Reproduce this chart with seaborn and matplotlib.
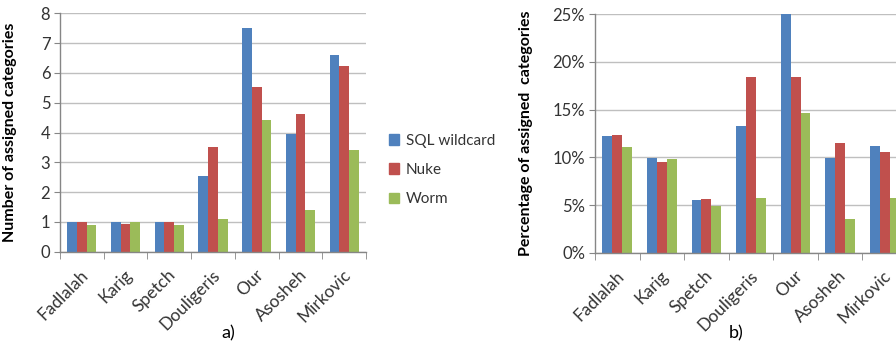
import numpy as np
import pandas as pd
import seaborn as sns
import matplotlib.pyplot as plt
import matplotlib.transforms as mtrans
from matplotlib.ticker import FuncFormatter, FixedLocator

methods = ["Fadlalah", "Karig", "Spetch", "Douligeris", "Our", "Asosheh", "Mirkovic"]
series = ["SQL wildcard", "Nuke", "Worm"]

# a) number of assigned categories
num_sql = [1.0, 1.0, 1.0, 2.53, 7.52, 3.95, 6.60]
num_nuke = [1.0, 0.93, 1.0, 3.50, 5.53, 4.62, 6.23]
num_worm = [0.89, 1.0, 0.89, 1.11, 4.41, 1.40, 3.41]

# b) percentage of assigned categories
pct_sql = [12.27, 9.90, 5.52, 13.29, 25.0, 9.90, 11.22]
pct_nuke = [12.38, 9.48, 5.59, 18.39, 18.46, 11.54, 10.56]
pct_worm = [11.12, 9.83, 4.90, 5.77, 14.65, 3.53, 5.77]

colors = ["#4F81BD", "#C0504D", "#9BBB59"]


def long_table(a, b, c):
    rows = []
    for s, vals in zip(series, [a, b, c]):
        for m, v in zip(methods, vals):
            rows.append({"method": m, "series": s, "value": v})
    return pd.DataFrame(rows)


df_num = long_table(num_sql, num_nuke, num_worm)
df_pct = long_table(pct_sql, pct_nuke, pct_worm)

sns.set_style("white")
plt.rcParams["font.family"] = ["Lato", "DejaVu Sans"]

fig = plt.figure(figsize=(8.96, 3.44), dpi=100)
ax1 = fig.add_axes([60 / 896, 1 - 251.7 / 344, 306 / 896, (251.7 - 13.3) / 344])
ax2 = fig.add_axes([595 / 896, 1 - 252.7 / 344, 312 / 896, (252.7 - 14.3) / 344])

grid_c = "#BFBFBF"
axis_c = "#868686"
text_c = "#333333"


def style(ax, df, ymax, step, ylabel, fmt=None):
    sns.barplot(data=df, x="method", y="value", hue="series", palette=colors,
                width=0.667, gap=0, saturation=1, ax=ax, legend=False,
                linewidth=0, edgecolor="none")
    ax.set_xlim(-0.5, len(methods) - 0.5)
    ax.set_ylim(0, ymax)
    ax.set_yticks(np.arange(0, ymax + step / 2, step))
    if fmt:
        ax.yaxis.set_major_formatter(FuncFormatter(fmt))
    ax.grid(axis="y", color=grid_c, linewidth=1)
    ax.set_axisbelow(True)
    for s in ["top", "right"]:
        ax.spines[s].set_visible(False)
    for s in ["left", "bottom"]:
        ax.spines[s].set_color(axis_c)
        ax.spines[s].set_linewidth(1)
    ax.tick_params(axis="x", which="major", length=0, pad=15)
    ax.xaxis.set_minor_locator(FixedLocator(np.arange(len(methods) + 1) - 0.5))
    ax.tick_params(axis="x", which="minor", length=5, color=axis_c, bottom=True)
    ax.tick_params(axis="y", length=4, color=axis_c, left=True, labelsize=12,
                   labelcolor=text_c, pad=3)
    shift = mtrans.ScaledTranslation(4 / 100, 0, fig.dpi_scale_trans)
    for lab in ax.get_xticklabels():
        lab.set_rotation(45)
        lab.set_ha("right")
        lab.set_va("center")
        lab.set_rotation_mode("anchor")
        lab.set_fontsize(12.5)
        lab.set_color(text_c)
        lab.set_transform(lab.get_transform() + shift)
    ax.set_xlabel("")
    ax.set_ylabel(ylabel, fontsize=11.5, fontweight="bold", color="black")


style(ax1, df_num, 8, 1, "Number of assigned categories")
style(ax2, df_pct, 25, 5, "Percentage of assigned  categories",
      fmt=lambda v, p: f"{int(v)}%")
ax1.yaxis.set_label_coords(-0.14, 0.5)
ax2.yaxis.set_label_coords(-0.2, 0.5)

fig.text(228 / 896, 1 - 333 / 344, "a)", fontsize=13, ha="center", va="center", color="black")
fig.text(736 / 896, 1 - 333 / 344, "b)", fontsize=13, ha="center", va="center", color="black")

handles = [plt.Rectangle((0, 0), 1, 1, color=c) for c in colors]
fig.legend(handles, series, loc="center left", bbox_to_anchor=(375 / 896, 1 - 170 / 344),
           frameon=False, handlelength=0.7, handleheight=0.7, handletextpad=0.4,
           labelspacing=1.0, fontsize=11, labelcolor=text_c)

fig.savefig("out.png", dpi=100)
